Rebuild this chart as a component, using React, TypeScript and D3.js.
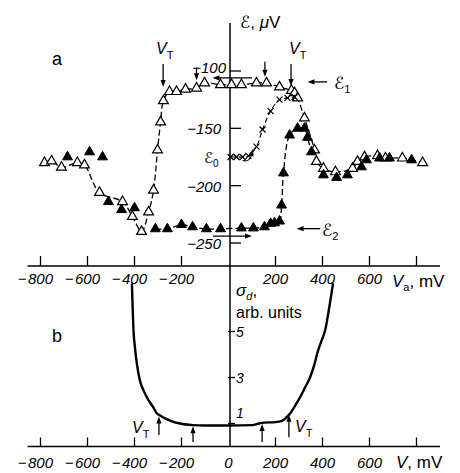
import React from 'react';
import * as d3 from 'd3';

// Panel a: thermo-emf vs bias, open triangles (sweep 1)
const openV = [-783, -753, -711, -643, -613, -549, -451, -409, -370, -340, -319, -302, -289, -277, -251, -221, -183, -136, -102, -34, 13, 55, 119, 162, 217, 268, 281, 294, 323, 366, 374, 404, 455, 528, 549, 579, 634, 668, 740, 826];
const openE = [-180, -178.5, -184, -180, -182, -206, -214, -227, -240, -223, -204, -169, -144.5, -126, -118, -118, -116, -115, -110.5, -112, -112, -112, -110.5, -110.5, -114, -117, -119, -123.5, -141, -169, -179, -185, -188, -185, -179, -175, -174, -176, -176, -180];
// filled triangles (sweep 2)
const filledV = [-685, -591, -536, -511, -455, -400, -311, -260, -200, -153, -94, -34, 55, 106, 153, 179, 196, 217, 226, 234, 260, 294, 323, 336, 353, 404, 460, 506, 566, 587, 643, 685, 779];
const filledE = [-175, -170.6, -175, -214, -221, -219.4, -237.7, -237.7, -234, -236, -237.7, -237.7, -237, -237, -236, -233, -232.5, -231, -217, -189, -156, -150, -150, -158, -170.6, -190.7, -193, -190.7, -183.7, -177.6, -176, -176, -177.6];
const filledLineRange = [-320, 360];
// crosses (E0 branch)
const crossV = [9, 34, 60, 85, 119, 145, 179, 217, 251, 281];
const crossE = [-175, -175, -175, -174, -166, -151, -135, -125, -123.5, -122.7];
// Panel b: differential conductance
const sigmaV = [-411, -404, -398, -390, -377, -362, -347, -320, -304, -291, -270, -249, -206, -151, -100, 0, 100, 130, 150, 200, 225, 245, 262, 285, 304, 325, 347, 365, 381, 396, 411, 428, 445];
const sigmaS = [7.1, 5.0, 4.3, 3.6, 2.87, 2.45, 2.13, 1.7, 1.43, 1.35, 1.22, 1.13, 1.0, 0.93, 0.91, 0.91, 0.93, 1.0, 1.04, 1.06, 1.1, 1.25, 1.43, 1.8, 2.13, 2.55, 3.0, 3.55, 4.17, 4.6, 5.04, 6.0, 7.1];

const xTicks = [-800, -600, -400, -200, 200, 400, 600, 800];
const xTickLabelsA = [-800, -600, -400, -200, 200, 400, 600];
const xTickLabelsB = [-800, -600, -400, -200, 0, 200, 400, 600];
const yTicksA = [-100, -150, -200, -250];
const yTicksB = [1, 3, 5];

const SANS = '"Liberation Sans", Arial, sans-serif';
const SCRIPT = '"DejaVu Sans", "DejaVu Serif", serif';

function Arrow({ x1, y1, x2, y2, w = 1.3 }: { x1: number; y1: number; x2: number; y2: number; w?: number }) {
  const dx = x2 - x1, dy = y2 - y1;
  const len = Math.hypot(dx, dy);
  const ux = dx / len, uy = dy / len;
  const hl = 7, hw = 2.6;
  const bx = x2 - ux * hl, by = y2 - uy * hl;
  const pts = `${x2},${y2} ${bx - uy * hw},${by + ux * hw} ${bx + uy * hw},${by - ux * hw}`;
  return (
    <g>
      <line x1={x1} y1={y1} x2={bx + ux * 1} y2={by + uy * 1} stroke="#000" strokeWidth={w} />
      <polygon points={pts} fill="#000" />
    </g>
  );
}

function TickLabel({ x, y, v, size = 15 }: { x: number; y: number; v: number; size?: number }) {
  const abs = Math.abs(v);
  return (
    <g fontFamily={SANS} fontStyle="italic" fontSize={size}>
      {v < 0 && (
        <text x={x - 14} y={y} textAnchor="end">{'\u2212'}</text>
      )}
      <text x={x} y={y} textAnchor="middle">{abs}</text>
    </g>
  );
}

export default function App() {
  const x = d3.scaleLinear().domain([-800, 800]).range([40.5, 416.5]);
  const yA = d3.scaleLinear().domain([-250, -100]).range([243, 71]);
  const yB = d3.scaleLinear().domain([0, 5]).range([446.5, 331.5]);

  const axisX = x(0) + 1.5;
  const axisYA = yA(-270);
  const axisYB = yB(0);

  const openPts: [number, number][] = openV.map((v, i) => [v, openE[i]]);
  const filledPts: [number, number][] = filledV.map((v, i) => [v, filledE[i]]);
  const crossPts: [number, number][] = crossV.map((v, i) => [v, crossE[i]]);
  const sigmaPts: [number, number][] = sigmaV.map((v, i) => [v, sigmaS[i]]);

  const lineA = d3
    .line<[number, number]>()
    .x((d) => x(d[0]))
    .y((d) => yA(d[1]))
    .curve(d3.curveCatmullRom.alpha(0.5));
  const lineB = d3
    .line<[number, number]>()
    .x((d) => x(d[0]))
    .y((d) => yB(d[1]))
    .curve(d3.curveMonotoneX);

  const tri = d3.symbol().type(d3.symbolTriangle).size(42)() as string;

  const filledLinePts = filledPts.filter((d) => d[0] >= filledLineRange[0] && d[0] <= filledLineRange[1]);

  return (
    <svg
      width={460}
      height={473}
      viewBox="0 0 460 473"
      style={{ position: 'absolute', left: 0, top: 0, background: '#fff' }}
    >
      <rect x={0} y={0} width={460} height={473} fill="#fff" />

      {/* vertical axis through both panels */}
      <line x1={axisX} y1={23} x2={axisX} y2={axisYB} stroke="#000" strokeWidth={1.5} />

      {/* ---------- Panel a ---------- */}
      <line x1={x(-855)} y1={axisYA} x2={x(900)} y2={axisYA} stroke="#000" strokeWidth={1.5} />
      {xTicks.map((t) => (
        <line key={'ta' + t} x1={x(t)} y1={axisYA} x2={x(t)} y2={axisYA - 10} stroke="#000" strokeWidth={1.3} />
      ))}
      {xTickLabelsA.map((t) => (
        <TickLabel key={'la' + t} x={x(t)} y={284} v={t} />
      ))}
      <text x={392} y={287} fontFamily={SANS} fontSize={17}>
        <tspan fontStyle="italic">V</tspan>
        <tspan fontSize={11} dy={4}>a</tspan>
        <tspan dy={-4}>, mV</tspan>
      </text>

      {yTicksA.map((t) => (
        <line key={'ya' + t} x1={axisX} y1={yA(t)} x2={axisX + 11} y2={yA(t)} stroke="#000" strokeWidth={1.3} />
      ))}
      {yTicksA.map((t) => (
        <text
          key={'yla' + t}
          x={t === -100 ? axisX - 4 : axisX - 9}
          y={t === -100 ? yA(t) + 2 : yA(t) + 6}
          textAnchor="end"
          fontFamily={SANS}
          fontStyle="italic"
          fontSize={15}
        >
          {'\u2212' + Math.abs(t)}
        </text>
      ))}
      <text x={240} y={28} fontFamily={SANS} fontSize={17}>
        <tspan fontFamily={SCRIPT} fontStyle="italic">ℰ</tspan>
        <tspan>, </tspan>
        <tspan fontStyle="italic">μ</tspan>
        <tspan>V</tspan>
      </text>

      <text x={52} y={65} fontFamily={SANS} fontSize={18}>a</text>

      {/* dashed connecting lines */}
      <path d={lineA(openPts) || ''} fill="none" stroke="#000" strokeWidth={1.3} strokeDasharray="6 3" />
      <path d={lineA(filledLinePts) || ''} fill="none" stroke="#000" strokeWidth={1.3} strokeDasharray="6 3" />
      <path d={lineA(crossPts) || ''} fill="none" stroke="#000" strokeWidth={1.2} strokeDasharray="5 3" />

      {/* markers */}
      {openPts.map((d, i) => (
        <path key={'o' + i} d={tri} transform={`translate(${x(d[0])},${yA(d[1])})`} fill="#fff" stroke="#000" strokeWidth={1.2} />
      ))}
      {filledPts.map((d, i) => (
        <path key={'f' + i} d={tri} transform={`translate(${x(d[0])},${yA(d[1])})`} fill="#000" stroke="#000" strokeWidth={1} />
      ))}
      {crossPts.map((d, i) => {
        const cx = x(d[0]), cy = yA(d[1]);
        return (
          <g key={'c' + i} stroke="#000" strokeWidth={1.2}>
            <line x1={cx - 3} y1={cy - 3} x2={cx + 3} y2={cy + 3} />
            <line x1={cx - 3} y1={cy + 3} x2={cx + 3} y2={cy - 3} />
          </g>
        );
      })}

      {/* annotations panel a */}
      <text x={156} y={54} fontFamily={SANS} fontSize={16} fontStyle="italic">
        V<tspan fontSize={11} dy={5} fontStyle="normal">T</tspan>
      </text>
      <Arrow x1={x(-278)} y1={yA(-94)} x2={x(-278)} y2={yA(-114)} />
      <Arrow x1={x(-136)} y1={yA(-97)} x2={x(-136)} y2={yA(-108)} />
      <Arrow x1={x(100)} y1={yA(-106)} x2={x(-68)} y2={yA(-106)} />
      <Arrow x1={x(155)} y1={yA(-92)} x2={x(155)} y2={yA(-105)} />
      <text x={289} y={54} fontFamily={SANS} fontSize={16} fontStyle="italic">
        V<tspan fontSize={11} dy={5} fontStyle="normal">T</tspan>
      </text>
      <Arrow x1={x(266)} y1={yA(-94)} x2={x(266)} y2={yA(-113)} />
      <Arrow x1={x(420)} y1={yA(-109.5)} x2={x(336)} y2={yA(-109.5)} />
      <text x={334} y={89} fontSize={17}>
        <tspan fontFamily={SCRIPT} fontStyle="italic">ℰ</tspan>
        <tspan fontFamily={SANS} fontSize={11} dy={4}>1</tspan>
      </text>
      <text x={204} y={163} fontSize={15}>
        <tspan fontFamily={SCRIPT} fontStyle="italic">ℰ</tspan>
        <tspan fontFamily={SANS} fontSize={10} dy={4}>0</tspan>
      </text>
      <path
        d={`M${x(60)},${yA(-178)} Q${x(90)},${yA(-180)} ${x(100)},${yA(-172)}`}
        fill="none"
        stroke="#000"
        strokeWidth={1.1}
      />
      <Arrow x1={x(96)} y1={yA(-174)} x2={x(104)} y2={yA(-168)} w={1.1} />
      <Arrow x1={x(390)} y1={yA(-237.5)} x2={x(290)} y2={yA(-237.5)} />
      <text x={322} y={236} fontSize={17}>
        <tspan fontFamily={SCRIPT} fontStyle="italic">ℰ</tspan>
        <tspan fontFamily={SANS} fontSize={11} dy={4}>2</tspan>
      </text>
      <Arrow x1={x(-66)} y1={yA(-244)} x2={x(100)} y2={yA(-244)} />

      {/* ---------- Panel b ---------- */}
      <line x1={x(-855)} y1={axisYB} x2={x(900)} y2={axisYB} stroke="#000" strokeWidth={1.5} />
      {xTicks.map((t) => (
        <line key={'tb' + t} x1={x(t)} y1={axisYB} x2={x(t)} y2={axisYB - 9} stroke="#000" strokeWidth={1.3} />
      ))}
      {xTickLabelsB.map((t) => (
        <TickLabel key={'lb' + t} x={x(t)} y={468} v={t} />
      ))}
      <text x={396} y={468} fontFamily={SANS} fontSize={17}>
        <tspan fontStyle="italic">V</tspan>
        <tspan>, mV</tspan>
      </text>
      {yTicksB.map((t) => (
        <line key={'yb' + t} x1={axisX - 2} y1={yB(t)} x2={axisX + 5} y2={yB(t)} stroke="#000" strokeWidth={1.3} />
      ))}
      {yTicksB.map((t) => (
        <text
          key={'ylb' + t}
          x={axisX + 6}
          y={t === 1 ? yB(t) - 6 : yB(t) + 5}
          fontFamily={SANS}
          fontStyle="italic"
          fontSize={14}
        >
          {t}
        </text>
      ))}
      <text x={236} y={296} fontFamily={SANS} fontSize={17}>
        <tspan fontStyle="italic">σ</tspan>
        <tspan fontSize={11} dy={4} fontStyle="italic">d</tspan>
        <tspan dy={-4}>,</tspan>
      </text>
      <text x={236} y={318} fontFamily={SANS} fontSize={16}>arb. units</text>
      <text x={52} y={342} fontFamily={SANS} fontSize={18}>b</text>

      <path d={lineB(sigmaPts) || ''} fill="none" stroke="#000" strokeWidth={2.4} strokeLinejoin="round" />

      <text x={132} y={433} fontFamily={SANS} fontSize={16} fontStyle="italic">
        V<tspan fontSize={11} dy={5} fontStyle="normal">T</tspan>
      </text>
      <Arrow x1={x(-296)} y1={yB(0.5)} x2={x(-296)} y2={yB(1.3)} />
      <Arrow x1={x(-151)} y1={yB(0.2)} x2={x(-151)} y2={yB(0.88)} />
      <Arrow x1={x(143)} y1={yB(0.2)} x2={x(143)} y2={yB(0.98)} />
      <Arrow x1={x(257)} y1={yB(0.4)} x2={x(257)} y2={yB(1.38)} />
      <text x={295} y={432} fontFamily={SANS} fontSize={16} fontStyle="italic">
        V<tspan fontSize={11} dy={5} fontStyle="normal">T</tspan>
      </text>
    </svg>
  );
}
